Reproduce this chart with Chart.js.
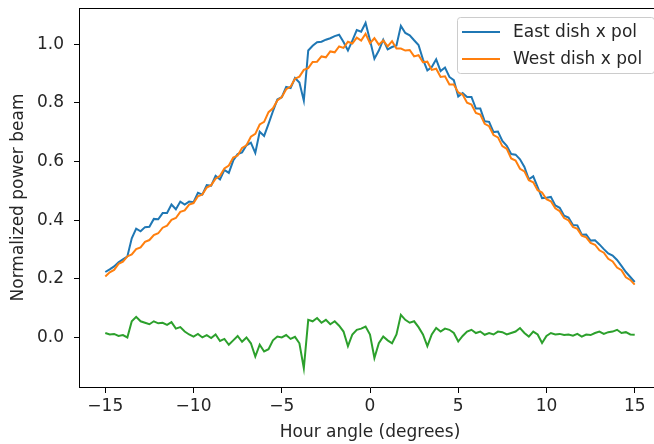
<!DOCTYPE html>
<html>
<head>
<meta charset="utf-8">
<script src="https://cdn.jsdelivr.net/npm/chart.js@4.4.1/dist/chart.umd.min.js"></script>
<style>
  html, body { margin: 0; padding: 0; background: #fff; }
  #wrap { width: 654px; height: 444px; overflow: hidden; position: relative; }
  #beam { position: absolute; left: 0; top: 0; }
</style>
</head>
<body>
<div id="wrap">
  <canvas id="beam" width="670" height="444"></canvas>
</div>
<script>
'use strict';

// hour angle sampled every 0.25 degrees from -15 to 15
const hourStart = -15;
const hourStep = 0.25;

const eastPol = [
  0.223, 0.232, 0.242, 0.256, 0.266, 0.276, 0.338, 0.371, 0.362, 0.376,
  0.377, 0.404, 0.403, 0.424, 0.424, 0.453, 0.437, 0.463, 0.453, 0.463,
  0.461, 0.493, 0.487, 0.519, 0.517, 0.551, 0.539, 0.571, 0.561, 0.603,
  0.625, 0.631, 0.655, 0.664, 0.629, 0.701, 0.687, 0.728, 0.771, 0.811,
  0.819, 0.854, 0.850, 0.884, 0.869, 0.807, 0.978, 0.994, 1.006, 1.008,
  1.015, 1.020, 1.027, 1.032, 1.007, 0.978, 1.012, 1.048, 1.042, 1.072,
  1.013,
  0.950, 0.978, 1.015, 0.982, 0.990, 0.995, 1.062, 1.038, 1.030, 1.013,
  0.997, 0.948, 0.910, 0.922, 0.948, 0.908, 0.920, 0.888, 0.877, 0.821,
  0.833, 0.820, 0.820, 0.780, 0.780, 0.737, 0.735, 0.700, 0.702, 0.670,
  0.653, 0.625, 0.623, 0.607, 0.581, 0.539, 0.549, 0.512, 0.475, 0.476,
  0.479, 0.450, 0.442, 0.415, 0.409, 0.383, 0.382, 0.350, 0.351, 0.330,
  0.331, 0.317, 0.301, 0.286, 0.279, 0.264, 0.244, 0.223, 0.206, 0.189
];

const westPol = [
  0.208, 0.222, 0.230, 0.251, 0.258, 0.276, 0.283, 0.301, 0.307, 0.326,
  0.332, 0.349, 0.355, 0.374, 0.381, 0.401, 0.407, 0.428, 0.433, 0.453,
  0.458, 0.481, 0.487, 0.511, 0.519, 0.541, 0.551, 0.576, 0.586, 0.613,
  0.620, 0.646, 0.655, 0.684, 0.694, 0.726, 0.735, 0.768, 0.781, 0.808,
  0.819, 0.846, 0.855, 0.882, 0.889, 0.912, 0.918, 0.939, 0.940, 0.958,
  0.955, 0.975, 0.972, 0.992, 0.987, 1.008, 1.002, 1.022, 1.012, 1.035,
  1.003,
  1.020, 0.998, 1.012, 0.992, 1.010, 0.985, 0.985, 0.978, 0.980, 0.958,
  0.962, 0.938, 0.940, 0.912, 0.916, 0.888, 0.890, 0.862, 0.862, 0.835,
  0.828, 0.800, 0.794, 0.765, 0.760, 0.728, 0.720, 0.690, 0.682, 0.652,
  0.643, 0.610, 0.603, 0.575, 0.566, 0.536, 0.529, 0.502, 0.494, 0.471,
  0.464, 0.440, 0.430, 0.407, 0.399, 0.377, 0.370, 0.347, 0.341, 0.322,
  0.316, 0.297, 0.289, 0.268, 0.259, 0.238, 0.229, 0.205, 0.196, 0.180
];

// east minus west
const polDiff = [
  0.015, 0.010, 0.012, 0.005, 0.008, 0.000, 0.055, 0.070, 0.055, 0.050,
  0.045, 0.055, 0.048, 0.050, 0.043, 0.052, 0.030, 0.035, 0.020, 0.010,
  0.003, 0.012, 0.000, 0.008, -0.002, 0.010, -0.012, -0.005, -0.025, -0.010,
  0.005, -0.015, 0.000, -0.020, -0.065, -0.025, -0.048, -0.040, -0.010, 0.003,
  0.000, 0.008, -0.005, 0.002, -0.020, -0.105, 0.060, 0.055, 0.066, 0.050,
  0.060, 0.045, 0.055, 0.040, 0.020, -0.030, 0.010, 0.026, 0.030, 0.037,
  0.010,
  -0.070, -0.020, 0.003, -0.010, -0.020, 0.010, 0.077, 0.060, 0.050, 0.055,
  0.035, 0.010, -0.030, 0.010, 0.032, 0.020, 0.030, 0.026, 0.015, -0.014,
  0.005, 0.020, 0.026, 0.015, 0.020, 0.009, 0.015, 0.010, 0.020, 0.018,
  0.010, 0.015, 0.020, 0.032, 0.015, 0.003, 0.020, 0.010, -0.019, 0.005,
  0.015, 0.010, 0.012, 0.008, 0.010, 0.006, 0.012, 0.003, 0.010, 0.008,
  0.015, 0.020, 0.012, 0.018, 0.020, 0.026, 0.015, 0.018, 0.010, 0.009
];

const xTicks = [-15, -10, -5, 0, 5, 10, 15];
const yTicks = [0.0, 0.2, 0.4, 0.6, 0.8, 1.0];

function toPoints ( values ) {
  return values.map( ( v, i ) => ( { x: hourStart + i * hourStep, y: v } ) );
}

const ink = '#262626';
Chart.defaults.font.family = 'DejaVu Sans';
Chart.defaults.font.size = 17;
Chart.defaults.color = ink;

// matplotlib-ish boxed legend plus the top spine
const framePlugin = {
  id: 'frame',
  afterDraw( chart ) {
    const ctx = chart.ctx;
    const area = chart.chartArea;
    ctx.save();
    ctx.strokeStyle = '#000';
    ctx.lineWidth = 1;
    ctx.beginPath();
    ctx.moveTo( area.left, area.top + 0.5 );
    ctx.lineTo( area.right, area.top + 0.5 );
    ctx.stroke();

    const shown = chart.data.datasets.filter( d => d.inLegend );
    const bx = 457, by = 17, bw = 197, bh = 56;
    ctx.fillStyle = 'rgba(255,255,255,0.8)';
    ctx.strokeStyle = '#cccccc';
    ctx.beginPath();
    ctx.roundRect( bx + 0.5, by + 0.5, bw, bh, 3 );
    ctx.fill();
    ctx.stroke();

    ctx.font = '17px "DejaVu Sans"';
    ctx.textBaseline = 'middle';
    shown.forEach( ( d, i ) => {
      const y = by + 15 + i * 27;
      ctx.strokeStyle = d.borderColor;
      ctx.lineWidth = 2;
      ctx.beginPath();
      ctx.moveTo( 462, y );
      ctx.lineTo( 500, y );
      ctx.stroke();
      ctx.fillStyle = ink;
      ctx.fillText( d.label, 513, y + 1 );
    } );
    ctx.restore();
  }
};

function noEdgePadding ( scale ) {
  scale.paddingTop = 0;
  scale.paddingBottom = 0;
  scale.paddingLeft = 0;
  scale.paddingRight = 0;
}

const ctx = document.getElementById( 'beam' ).getContext( '2d' );
const beamChart = new Chart( ctx, {
  type: 'line',
  data: {
    datasets: [{
      label: 'East dish x pol',
      data: toPoints( eastPol ),
      borderColor: '#1f77b4',
      inLegend: true,
      order: 3
    }, {
      label: 'West dish x pol',
      data: toPoints( westPol ),
      borderColor: '#ff7f0e',
      inLegend: true,
      order: 2
    }, {
      label: 'East - West',
      data: toPoints( polDiff ),
      borderColor: '#2ca02c',
      inLegend: false,
      order: 1
    }]
  },
  options: {
    responsive: false,
    animation: false,
    layout: { padding: { top: 8, right: 9, left: 0, bottom: 0 } },
    elements: {
      point: { radius: 0 },
      line: { borderWidth: 2, tension: 0 }
    },
    plugins: {
      legend: { display: false },
      tooltip: { enabled: false }
    },
    scales: {
      x: {
        type: 'linear',
        min: -16.49,
        max: 16.49,
        afterBuildTicks: ( scale ) => { scale.ticks = xTicks.map( v => ( { value: v } ) ); },
        afterFit: ( scale ) => { scale.height = 57; noEdgePadding( scale ); },
        grid: { drawOnChartArea: false, tickLength: 6, tickColor: '#000' },
        border: { color: '#000', width: 1 },
        ticks: {
          padding: 3,
          color: ink,
          callback: ( v ) => String( v ).replace( '-', '\u2212' )
        },
        title: {
          display: true,
          text: 'Hour angle (degrees)',
          color: ink,
          padding: { top: 0, bottom: 1 }
        }
      },
      y: {
        min: -0.169,
        max: 1.123,
        afterBuildTicks: ( scale ) => { scale.ticks = yTicks.map( v => ( { value: v } ) ); },
        afterFit: ( scale ) => { scale.width = 79; noEdgePadding( scale ); },
        grid: { drawOnChartArea: false, tickLength: 5, tickColor: '#000' },
        border: { color: '#000', width: 1 },
        ticks: {
          padding: 10,
          color: ink,
          callback: ( v ) => v.toFixed( 1 )
        },
        title: {
          display: true,
          text: 'Normalized power beam',
          color: ink,
          padding: { top: 8, bottom: 0 }
        }
      }
    }
  },
  plugins: [ framePlugin ]
} );
</script>
</body>
</html>
